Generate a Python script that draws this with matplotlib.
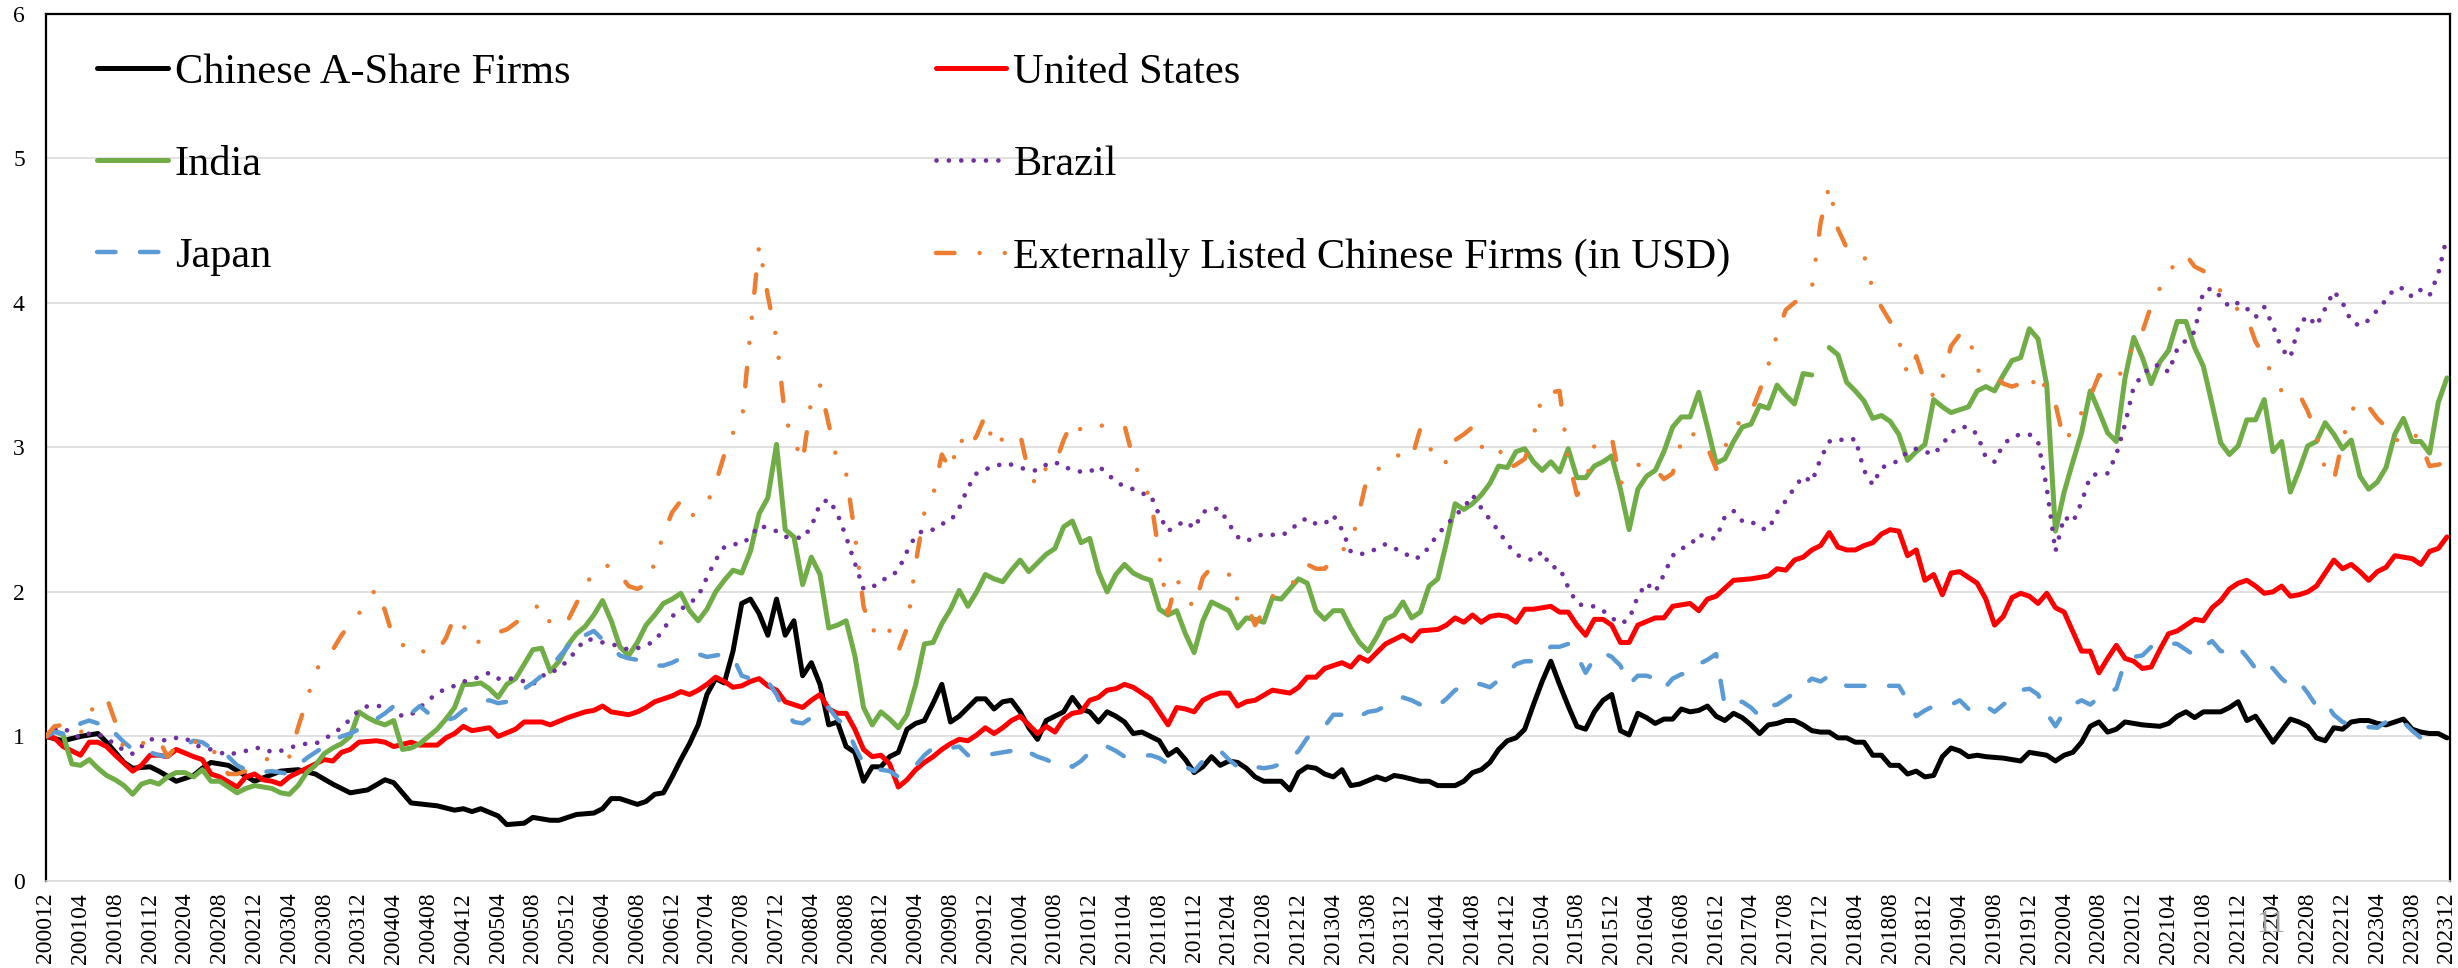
import numpy as np
import pandas as pd
import matplotlib
matplotlib.use("Agg")
import matplotlib.pyplot as plt

plt.rcParams['font.family'] = ['Liberation Serif', 'DejaVu Serif']
plt.rcParams['lines.scale_dashes'] = False

# ---------------- data (month offset from 2000-12, cumulative value) ----------------
start_period = "2000-12"
end_period = "2023-12"

china_a_t = [0, 2, 4, 6, 7, 9, 10, 12, 13, 15, 17, 18, 19, 21, 24, 27, 29, 31, 33, 35, 37, 39, 40, 42, 45, 47, 48, 49, 50, 52, 53, 55, 56, 58, 59, 60, 61, 63, 64, 65, 66, 68, 69, 70, 71, 72, 73, 74, 75, 76, 77, 78, 79, 80, 81, 82, 83, 84, 85, 86, 87, 88, 89, 90, 91, 92, 93, 94, 95, 96, 97, 98, 99, 100, 101, 102, 103, 104, 105, 106, 107, 108, 109, 110, 111, 112, 113, 114, 115, 117, 118, 119, 120, 121, 122, 123, 124, 125, 126, 127, 128, 129, 130, 131, 132, 133, 134, 135, 136, 137, 138, 139, 140, 142, 143, 144, 145, 146, 147, 148, 149, 150, 151, 153, 154, 155, 156, 158, 159, 160, 162, 163, 164, 165, 166, 167, 168, 169, 170, 171, 172, 173, 174, 175, 176, 177, 178, 179, 180, 181, 182, 183, 184, 185, 186, 187, 188, 189, 190, 191, 192, 193, 194, 195, 196, 197, 198, 199, 200, 201, 202, 203, 204, 205, 206, 207, 208, 209, 210, 211, 212, 213, 214, 215, 216, 217, 218, 219, 220, 221, 222, 223, 225, 227, 228, 230, 231, 232, 233, 234, 235, 236, 237, 238, 239, 240, 241, 243, 244, 245, 246, 247, 248, 249, 250, 251, 252, 253, 254, 255, 256, 257, 258, 259, 260, 261, 262, 263, 264, 265, 266, 267, 268, 269, 270, 271, 272, 273, 274, 275, 276]
china_a_v = [1.00, 0.97, 1.00, 1.02, 0.96, 0.82, 0.78, 0.79, 0.76, 0.69, 0.73, 0.78, 0.82, 0.80, 0.69, 0.76, 0.77, 0.74, 0.67, 0.61, 0.63, 0.70, 0.68, 0.54, 0.52, 0.49, 0.50, 0.48, 0.50, 0.45, 0.39, 0.40, 0.44, 0.42, 0.42, 0.44, 0.46, 0.47, 0.50, 0.57, 0.57, 0.53, 0.55, 0.60, 0.61, 0.72, 0.84, 0.95, 1.08, 1.29, 1.40, 1.37, 1.59, 1.92, 1.95, 1.85, 1.70, 1.95, 1.70, 1.80, 1.42, 1.51, 1.36, 1.08, 1.10, 0.93, 0.89, 0.69, 0.79, 0.79, 0.86, 0.89, 1.05, 1.09, 1.11, 1.23, 1.36, 1.10, 1.14, 1.20, 1.26, 1.26, 1.19, 1.24, 1.25, 1.17, 1.06, 0.98, 1.11, 1.17, 1.27, 1.19, 1.17, 1.10, 1.17, 1.14, 1.10, 1.02, 1.03, 1.00, 0.97, 0.87, 0.91, 0.84, 0.75, 0.79, 0.86, 0.80, 0.83, 0.82, 0.78, 0.72, 0.69, 0.69, 0.63, 0.75, 0.79, 0.78, 0.74, 0.72, 0.77, 0.66, 0.67, 0.72, 0.70, 0.73, 0.72, 0.69, 0.69, 0.66, 0.66, 0.69, 0.75, 0.77, 0.82, 0.91, 0.97, 0.99, 1.05, 1.22, 1.38, 1.52, 1.36, 1.21, 1.07, 1.05, 1.17, 1.25, 1.29, 1.04, 1.01, 1.16, 1.13, 1.09, 1.12, 1.12, 1.19, 1.17, 1.18, 1.21, 1.14, 1.11, 1.16, 1.13, 1.08, 1.02, 1.08, 1.09, 1.11, 1.11, 1.08, 1.04, 1.03, 1.03, 0.99, 0.99, 0.96, 0.96, 0.87, 0.87, 0.80, 0.80, 0.74, 0.76, 0.72, 0.73, 0.86, 0.92, 0.90, 0.86, 0.87, 0.86, 0.85, 0.83, 0.89, 0.87, 0.83, 0.87, 0.89, 0.96, 1.07, 1.10, 1.03, 1.05, 1.10, 1.09, 1.08, 1.07, 1.09, 1.14, 1.17, 1.13, 1.17, 1.17, 1.17, 1.20, 1.24, 1.11, 1.14, 1.05, 0.96, 1.04, 1.12, 1.10, 1.07, 0.99, 0.97, 1.06, 1.05, 1.10, 1.11, 1.11, 1.09, 1.08, 1.10, 1.12, 1.05, 1.03, 1.02, 1.02, 0.99]

us_t = [0, 1, 2, 4, 5, 6, 7, 8, 10, 11, 12, 13, 14, 15, 17, 18, 19, 20, 22, 23, 24, 25, 26, 27, 28, 30, 31, 32, 33, 34, 35, 36, 38, 39, 40, 42, 43, 45, 46, 47, 48, 49, 51, 52, 54, 55, 57, 58, 60, 61, 62, 63, 64, 65, 67, 68, 69, 70, 71, 72, 73, 74, 75, 76, 77, 78, 79, 80, 81, 82, 83, 84, 85, 86, 87, 88, 89, 90, 91, 92, 93, 94, 95, 96, 97, 98, 99, 100, 101, 102, 103, 104, 105, 106, 107, 108, 109, 110, 111, 112, 113, 114, 115, 116, 117, 118, 119, 120, 121, 122, 123, 124, 125, 126, 127, 128, 129, 130, 131, 132, 133, 134, 135, 136, 137, 138, 139, 141, 143, 144, 145, 146, 147, 149, 150, 151, 152, 154, 156, 157, 158, 160, 161, 162, 163, 164, 165, 166, 167, 168, 169, 170, 171, 173, 174, 175, 176, 177, 178, 179, 180, 181, 182, 183, 185, 186, 187, 189, 190, 191, 192, 194, 196, 198, 199, 200, 201, 202, 203, 204, 205, 206, 207, 208, 209, 210, 211, 212, 213, 214, 215, 216, 217, 218, 219, 220, 221, 222, 223, 224, 225, 226, 227, 228, 229, 230, 231, 232, 234, 235, 236, 237, 238, 239, 240, 241, 242, 243, 244, 245, 246, 247, 248, 249, 250, 251, 252, 253, 254, 255, 256, 257, 258, 259, 260, 261, 262, 263, 264, 265, 266, 267, 268, 269, 270, 271, 272, 273, 274, 275, 276]
us_v = [1.00, 0.99, 0.93, 0.87, 0.96, 0.96, 0.93, 0.87, 0.76, 0.80, 0.87, 0.87, 0.86, 0.91, 0.86, 0.84, 0.74, 0.72, 0.65, 0.72, 0.74, 0.70, 0.69, 0.67, 0.72, 0.78, 0.81, 0.84, 0.83, 0.89, 0.91, 0.96, 0.97, 0.96, 0.93, 0.96, 0.94, 0.94, 0.99, 1.02, 1.07, 1.04, 1.06, 1.00, 1.05, 1.10, 1.10, 1.08, 1.13, 1.15, 1.17, 1.18, 1.21, 1.17, 1.15, 1.17, 1.20, 1.24, 1.26, 1.28, 1.31, 1.29, 1.32, 1.36, 1.41, 1.38, 1.34, 1.35, 1.38, 1.40, 1.35, 1.32, 1.24, 1.22, 1.20, 1.25, 1.29, 1.19, 1.16, 1.16, 1.05, 0.91, 0.86, 0.87, 0.81, 0.65, 0.70, 0.77, 0.82, 0.86, 0.91, 0.95, 0.98, 0.97, 1.01, 1.06, 1.02, 1.06, 1.11, 1.14, 1.08, 1.02, 1.07, 1.03, 1.12, 1.16, 1.17, 1.25, 1.27, 1.32, 1.33, 1.36, 1.34, 1.30, 1.26, 1.17, 1.08, 1.20, 1.19, 1.17, 1.25, 1.28, 1.30, 1.30, 1.21, 1.24, 1.25, 1.32, 1.30, 1.34, 1.41, 1.41, 1.47, 1.51, 1.48, 1.55, 1.52, 1.64, 1.70, 1.66, 1.73, 1.74, 1.77, 1.82, 1.79, 1.84, 1.79, 1.83, 1.84, 1.83, 1.79, 1.88, 1.88, 1.90, 1.86, 1.86, 1.77, 1.70, 1.81, 1.81, 1.77, 1.65, 1.65, 1.77, 1.82, 1.82, 1.90, 1.92, 1.87, 1.95, 1.97, 2.08, 2.09, 2.11, 2.16, 2.15, 2.22, 2.24, 2.29, 2.32, 2.41, 2.31, 2.29, 2.29, 2.32, 2.34, 2.40, 2.43, 2.42, 2.25, 2.29, 2.08, 2.12, 1.98, 2.13, 2.14, 2.10, 2.06, 1.95, 1.77, 1.83, 1.96, 1.99, 1.97, 1.92, 1.99, 1.89, 1.86, 1.59, 1.59, 1.44, 1.54, 1.63, 1.54, 1.52, 1.47, 1.48, 1.60, 1.71, 1.73, 1.77, 1.81, 1.80, 1.89, 1.94, 2.02, 2.06, 2.08, 2.04, 1.99, 2.00, 2.04, 1.97, 1.98, 2.00, 2.04, 2.13, 2.22, 2.16, 2.19, 2.14, 2.08, 2.14, 2.17, 2.25, 2.24, 2.23, 2.19, 2.28, 2.30, 2.38]

india_t = list(range(0, 44)) + list(range(45, 277))
india_v = [1.00, 1.04, 1.01, 0.81, 0.80, 0.84, 0.78, 0.73, 0.70, 0.66, 0.60, 0.67, 0.69, 0.67, 0.72, 0.75, 0.75, 0.72, 0.77, 0.69, 0.69, 0.65, 0.61, 0.64, 0.66, 0.65, 0.64, 0.61, 0.60, 0.66, 0.75, 0.80, 0.88, 0.92, 0.95, 1.00, 1.17, 1.13, 1.10, 1.08, 1.11, 0.91, 0.92, 0.95,
           1.05, 1.12, 1.20, 1.36, 1.36, 1.37, 1.33, 1.27, 1.36, 1.40, 1.50, 1.60, 1.61, 1.45, 1.52, 1.63, 1.71, 1.76, 1.84, 1.94, 1.80, 1.62, 1.56, 1.65, 1.77, 1.84, 1.92, 1.95, 1.99, 1.87, 1.80, 1.88, 2.00, 2.08, 2.15, 2.13, 2.28, 2.54, 2.65, 3.02, 2.43, 2.38, 2.05, 2.24, 2.12, 1.75, 1.77, 1.80, 1.56, 1.20, 1.08, 1.17, 1.12, 1.06, 1.15, 1.36, 1.64, 1.65, 1.78, 1.88, 2.01, 1.90, 2.00, 2.12, 2.09, 2.07, 2.15, 2.22, 2.14, 2.20, 2.26, 2.30, 2.45, 2.49, 2.34, 2.37, 2.14, 2.00, 2.12, 2.19, 2.13, 2.10, 2.08, 1.88, 1.84, 1.87, 1.71, 1.58, 1.80, 1.93, 1.90, 1.87, 1.75, 1.82, 1.81, 1.79, 1.96, 1.95, 2.02, 2.09, 2.06, 1.87, 1.81, 1.87, 1.87, 1.75, 1.65, 1.59, 1.69, 1.81, 1.84, 1.93, 1.82, 1.86, 2.04, 2.09, 2.34, 2.61, 2.57, 2.61, 2.67, 2.75, 2.87, 2.86, 2.97, 2.99, 2.90, 2.84, 2.90, 2.83, 2.99, 2.79, 2.79, 2.87, 2.90, 2.94, 2.71, 2.43, 2.71, 2.80, 2.84, 2.97, 3.14, 3.21, 3.21, 3.38, 3.14, 2.89, 2.92, 3.04, 3.14, 3.16, 3.29, 3.27, 3.43, 3.36, 3.30, 3.51, 3.50, np.nan, 3.69, 3.64, 3.45, 3.39, 3.32, 3.20, 3.22, 3.18, 3.09, 2.91, 2.97, 3.02, 3.33, 3.28, 3.24, 3.26, 3.28, 3.39, 3.42, 3.39, 3.50, 3.60, 3.62, 3.82, 3.75, 3.43, 2.42, 2.69, 2.90, 3.10, 3.39, 3.25, 3.10, 3.04, 3.48, 3.76, 3.62, 3.44, 3.59, 3.67, 3.87, 3.87, 3.69, 3.56, 3.30, 3.03, 2.95, 3.01, 3.19, 3.19, 3.33, 2.97, 3.04, 2.69, 2.84, 3.01, 3.04, 3.17, 3.09, 2.99, 3.05, 2.80, 2.71, 2.76, 2.86, 3.09, 3.20, 3.04, 3.04, 2.96, 3.31, 3.48]

brazil_t = list(range(0, 53)) + list(range(54, 141)) + list(range(142, 277))
brazil_v = [1.00, 1.05, 1.06, 1.02, 0.99, 1.02, 1.02, 0.98, 0.95, 0.90, 0.88, 0.93, 0.98, 0.98, 0.97, 0.99, 0.99, 0.95, 0.92, 0.91, 0.89, 0.87, 0.89, 0.90, 0.92, 0.92, 0.89, 0.90, 0.92, 0.94, 0.95, 0.95, 0.98, 1.02, 1.06, 1.12, 1.18, 1.21, 1.21, 1.21, 1.18, 1.14, 1.15, 1.20, 1.25, 1.30, 1.33, 1.35, 1.38, 1.39, 1.42, 1.44, 1.40,
            1.40, 1.38, 1.36, 1.42, 1.43, 1.48, 1.52, 1.60, 1.67, 1.67, 1.65, 1.64, 1.62, 1.60, 1.61, 1.63, 1.66, 1.74, 1.83, 1.88, 1.92, 1.97, 2.10, 2.22, 2.31, 2.33, 2.33, 2.38, 2.46, 2.44, 2.42, 2.38, 2.38, 2.37, 2.45, 2.61, 2.64, 2.54, 2.38, 2.20, 2.02, 2.03, 2.08, 2.10, 2.15, 2.28, 2.39, 2.43, 2.43, 2.47, 2.49, 2.58, 2.72, 2.82, 2.85, 2.86, 2.89, 2.88, 2.86, 2.84, 2.84, 2.88, 2.90, 2.86, 2.85, 2.83, 2.83, 2.87, 2.82, 2.76, 2.73, 2.71, 2.68, 2.67, 2.53, 2.42, 2.46, 2.49, 2.44, 2.55, 2.58, 2.57, 2.47, 2.38, 2.35, 2.38, 2.40,
            2.39, 2.42, 2.48, 2.51, 2.47, 2.47, 2.53, 2.43, 2.28, 2.26, 2.27, 2.30, 2.33, 2.30, 2.28, 2.23, 2.24, 2.31, 2.40, 2.46, 2.53, 2.58, 2.67, 2.58, 2.50, 2.42, 2.33, 2.26, 2.23, 2.22, 2.28, 2.17, 2.17, 2.03, 1.92, 1.90, 1.90, 1.87, 1.82, 1.78, 1.81, 1.97, 2.06, 2.00, 2.12, 2.25, 2.30, 2.32, 2.40, 2.37, 2.37, 2.52, 2.56, 2.49, 2.49, 2.44, 2.43, 2.55, 2.63, 2.72, 2.80, 2.76, 2.92, 3.04, 3.06, 3.04, 3.06, 2.84, 2.74, 2.86, 2.88, 2.91, 2.97, 2.99, 2.97, 2.95, 3.02, 3.10, 3.14, 3.14, 3.09, 2.93, 2.90, 3.02, 3.07, 3.09, 3.09, 3.04, 2.72, 2.28, 2.52, 2.48, 2.62, 2.80, 2.82, 2.82, 2.95, 3.16, 3.42, 3.50, 3.56, 3.57, 3.52, 3.68, 3.74, 3.80, 4.08, 4.10, 4.04, 3.97, 4.00, 3.96, 3.90, 3.97, 3.84, 3.68, 3.62, 3.85, 3.91, 3.84, 3.96, 4.08, 4.00, 3.87, 3.84, 3.88, 3.95, 4.02, 4.10, 4.10, 4.04, 4.09, 4.05, 4.20, 4.46]

japan_t = list(range(0, 11)) + list(range(12, 25)) + list(range(26, 126)) + list(range(127, 208)) + [209, 211] + list(range(213, 218)) + list(range(219, 244)) + list(range(245, 267)) + list(range(268, 275))
japan_v = [1.00, 1.03, 1.02, 1.00, 1.09, 1.11, 1.09, 1.10, 1.02, 0.96, 0.91,
           0.89, 0.87, 0.86, 0.91, 0.94, 0.97, 0.96, 0.92, 0.87, 0.86, 0.80, 0.77, 0.75,
           0.76, 0.75, 0.74, 0.80, 0.85, 0.89, 0.93, 0.97, 1.00, 1.02, 1.05, 1.08, 1.12, 1.16, 1.21, 1.16, 1.16, 1.21, 1.16, 1.14, 1.11, 1.13, 1.18, 1.21, 1.24, 1.25, 1.23, 1.24, 1.28, 1.33, 1.37, 1.42, 1.48, 1.55, 1.62, 1.72, 1.70, 1.73, 1.67, 1.62, 1.56, 1.54, 1.53, 1.51, 1.49, 1.49, 1.51, 1.54, 1.56, 1.57, 1.55, 1.56, 1.57, 1.55, 1.42, 1.40, 1.41, 1.38, 1.29, 1.16, 1.10, 1.09, 1.13, 1.20, 1.20, 1.12, 1.07, 0.93, 0.81, 0.78, 0.77, 0.76, 0.72, 0.76, 0.80, 0.87, 0.92, 0.91, 0.92, 0.93, 0.87, 0.86, 0.87, 0.88, 0.89, 0.90, 0.93, 0.89, 0.86, 0.84, 0.81, 0.82, 0.79, 0.83, 0.89, 0.90, 0.93, 0.90, 0.86, 0.86,
           0.87, 0.85, 0.81, 0.80, 0.79, 0.76, 0.83, 0.86, 0.90, 0.84, 0.79, 0.81, 0.79, 0.78, 0.79, 0.81, 0.84, 0.90, 0.99, 1.02, 1.07, 1.15, 1.15, 1.12, 1.14, 1.17, 1.18, 1.21, 1.23, 1.27, 1.25, 1.22, 1.21, 1.21, 1.26, 1.32, 1.35, 1.37, 1.36, 1.34, 1.39, 1.44, 1.50, 1.52, 1.52, 1.58, 1.62, 1.62, 1.64, 1.56, 1.44, 1.54, 1.58, 1.55, 1.49, 1.36, 1.42, 1.42, 1.40, 1.33, 1.40, 1.43, 1.44, 1.50, 1.53, 1.57, 1.21, 1.23, 1.24, 1.20, 1.14, 1.21, 1.22, 1.26, 1.30, 1.35, 1.40, 1.38, 1.42, 1.37, 1.35,
           1.35, 1.35,
           1.35, 1.25, 1.14, 1.18, 1.21,
           1.22, 1.25, 1.19, 1.17, 1.21, 1.17, 1.22, 1.27, 1.32, 1.33, 1.29, 1.16, 1.07, 1.17, 1.22, 1.25, 1.22, 1.27, 1.30, 1.33, 1.52, 1.55, 1.56, 1.62, 1.65,
           1.64, 1.60, 1.56, 1.62, 1.66, 1.59, 1.58, 1.62, 1.55, 1.47, 1.52, 1.47, 1.40, 1.35, 1.38, 1.30, 1.21, 1.24, 1.15, 1.10, 1.08, 1.07,
           1.06, 1.10, 1.13, 1.10, 1.04, 0.99, 0.93]

ext_china_t = [0, 1, 2, 4, 5, 6, 7, 8, 9, 10, 12, 13, 14, 15, 16, 18, 19, 20, 21, 22, 23, 24, 26, 27, 28, 29, 30, 31, 32, 33, 34, 35, 36, 37, 38, 39, 40, 41, 42, 43, 44, 45, 46, 47, 48, 49, 50, 51, 52, 53, 55, 56, 57, 58, 59, 60, 61, 62, 63, 64, 65, 66, 67, 68, 69, 70, 71, 72, 73, 74, 75, 76, 77, 78, 79, 80, 81, 82, 83, 84, 85, 86, 87, 88, 89, 90, 91, 92, 93, 94, 95, 96, 97, 98, 99, 100, 101, 102, 103, 104, 105, 106, 107, 108, 109, 110, 111, 112, 113, 114, 115, 116, 117, 118, 119, 120, 121, 122, 123, 124, 125, 126, 127, 128, 129, 130, 131, 132, 133, 134, 136, 137, 138, 139, 141, 142, 144, 145, 146, 147, 149, 150, 151, 152, 153, 155, 157, 158, 159, 160, 161, 162, 163, 164, 165, 166, 167, 168, 169, 170, 171, 172, 173, 174, 175, 176, 177, 178, 179, 180, 181, 182, 183, 185, 186, 187, 188, 189, 190, 191, 192, 193, 194, 195, 196, 197, 198, 199, 200, 202, 203, 204, 205, 206, 207, 208, 209, 210, 211, 212, 213, 214, 215, 216, 217, 218, 219, 220, 221, 222, 223, 224, 225, 226, 227, 228, 229, 230, 231, 232, 233, 234, 235, 236, 237, 238, 239, 240, 241, 242, 243, 244, 245, 246, 247, 248, 249, 250, 251, 252, 253, 254, 255, 256, 257, 258, 259, 260, 261, 262, 263, 264, 265, 266, 267, 268, 269, 270, 271, 272, 273, 274, 275, 276]
ext_china_v = [1.00, 1.07, 1.08, 1.02, 1.17, 1.22, 1.27, 1.10, 0.91, 0.93, 0.97, 0.98, 0.86, 0.93, 0.95, 0.97, 0.95, 0.80, 0.74, 0.74, 0.76, 0.80, 0.86, 0.89, 0.86, 1.06, 1.25, 1.45, 1.54, 1.60, 1.70, 1.78, 1.85, 1.95, 2.02, 1.87, 1.67, 1.63, 1.66, 1.60, 1.57, 1.59, 1.68, 1.83, 1.77, 1.64, 1.66, 1.70, 1.72, 1.74, 1.83, 1.88, 1.92, 1.78, 1.76, 1.80, 1.92, 2.03, 2.15, 2.18, 2.18, 2.12, 2.04, 2.02, 2.05, 2.20, 2.40, 2.55, 2.63, 2.52, 2.55, 2.61, 2.75, 2.95, 3.10, 3.16, 3.80, 4.40, 4.05, 3.75, 3.20, 3.05, 2.90, 3.33, 3.43, 3.16, 2.90, 2.82, 2.40, 1.90, 1.72, 1.80, 1.73, 1.59, 1.75, 2.20, 2.55, 2.67, 2.95, 2.84, 3.07, 2.98, 3.08, 3.22, 3.00, 3.06, 3.08, 3.09, 2.82, 2.73, 2.86, 2.88, 3.05, 3.18, 3.12, 3.10, 3.15, 3.15, 3.15, 3.15, 2.92, 2.75, 2.65, 2.25, 1.85, 2.09, 1.97, 1.89, 2.10, 2.17, 2.12, 1.94, 1.92, 1.77, 1.97, 1.99, 2.10, 2.19, 2.16, 2.16, 2.29, 2.32, 2.56, 2.82, 2.84, 2.95, 2.92, 3.13, 3.01, 2.88, 2.90, 3.05, 3.09, 3.14, 3.00, 3.04, 3.00, 2.85, 2.88, 2.92, 3.07, 3.37, 3.38, 3.39, 2.92, 2.67, 2.75, 3.01, 3.05, 3.07, 2.75, 2.80, 2.88, 2.85, 2.78, 2.82, 3.04, 3.12, 3.04, 3.00, 2.85, 3.00, 3.12, 3.20, 3.24, 3.39, 3.57, 3.78, 3.95, 4.05, 4.10, 4.55, 4.81, 4.51, 4.38, 4.35, 4.33, 4.09, 3.97, 3.87, 3.74, 3.50, 3.63, 3.45, 3.35, 3.48, 3.70, 3.78, 3.79, 3.53, 3.53, 3.50, 3.44, 3.42, 3.44, 3.39, 3.52, 3.39, 3.30, 3.04, 3.12, 3.24, 3.35, 3.50, 3.48, 3.46, 3.57, 3.72, 3.80, 3.98, 4.10, 4.20, 4.30, 4.33, 4.25, 4.22, 4.15, 4.08, 4.01, 3.95, 3.90, 3.73, 3.63, 3.48, 3.39, 3.38, 3.37, 3.25, 3.09, 2.85, 2.77, 3.05, 3.25, 3.33, 3.28, 3.20, 3.14, 3.04, 3.08, 3.12, 3.02, 2.87, 2.88, 2.90]

series_labels = ["Chinese A-Share Firms", "United States", "India", "Brazil",
                 "Japan", "Externally Listed Chinese Firms (in USD)"]
y_ticks = [0, 1, 2, 3, 4, 5, 6]
tick_step_months = 4

# ---------------- figure ----------------
W, H = 2458, 968
fig = plt.figure(figsize=(W / 100, H / 100), dpi=100)
ax = fig.add_axes([45.7 / W, 1 - 881 / H, (2450 - 45.7) / W, (881 - 13.6) / H])

months = pd.period_range(start_period, end_period, freq="M")
n_months = len(months)

lw_solid = 3.6
l_a, = ax.plot(china_a_t, china_a_v, color="#000000", lw=lw_solid,
               solid_joinstyle="round", solid_capstyle="round", zorder=3)
l_us, = ax.plot(us_t, us_v, color="#FF0000", lw=lw_solid,
                solid_joinstyle="round", solid_capstyle="round", zorder=3)
l_in, = ax.plot(india_t, india_v, color="#70AD47", lw=lw_solid,
                solid_joinstyle="round", solid_capstyle="round", zorder=3)
l_br, = ax.plot(brazil_t, brazil_v, color="#7030A0", lw=3.4,
                dashes=(0.01, 8.9), dash_capstyle="round", zorder=3)
l_jp, = ax.plot(japan_t, japan_v, color="#5B9BD5", lw=3.2,
                dashes=(13.3, 17.6), dash_capstyle="round", zorder=3)
l_ex, = ax.plot(ext_china_t, ext_china_v, color="#ED7D31", lw=3.2,
                dashes=(13.3, 18.1, 0.01, 18.1, 0.01, 18.1),
                dash_capstyle="round", zorder=3)

ax.set_xlim(0, n_months - 1 + 0.35)
ax.set_ylim(0, 6)
ax.set_yticks(y_ticks)
ax.set_yticklabels([str(v) for v in y_ticks])
tick_pos = np.arange(0, n_months, tick_step_months)
ax.set_xticks(tick_pos)
ax.set_xticklabels([months[i].strftime("%Y%m") for i in tick_pos], rotation=90)

ax.tick_params(axis="both", length=0, labelsize=17)
ax.tick_params(axis="y", pad=15)
ax.tick_params(axis="x", pad=8.5)

ax.yaxis.grid(True, color="#D9D9D9", lw=1.1, zorder=0)
ax.set_axisbelow(True)
for side in ["left", "top", "right"]:
    ax.spines[side].set_color("#000000")
    ax.spines[side].set_linewidth(1.6)
ax.spines["bottom"].set_color("#D9D9D9")
ax.spines["bottom"].set_linewidth(1.1)

handles = [l_a, l_in, l_jp, l_us, l_br, l_ex]
labels = [series_labels[0], series_labels[2], series_labels[4],
          series_labels[1], series_labels[3], series_labels[5]]
ax.legend(handles, labels, loc="upper left", bbox_to_anchor=(0.0213, 0.954),
          ncol=2, frameon=False, borderpad=0, borderaxespad=0,
          handlelength=1.67, handletextpad=0.17, columnspacing=8.62,
          labelspacing=1.26, fontsize=30.5)

fig.text(2271 / W, 1 - 924 / H, "11", color="#A0A0A0", fontsize=22,
         ha="center", va="center")

fig.savefig("out.png", dpi=100)
